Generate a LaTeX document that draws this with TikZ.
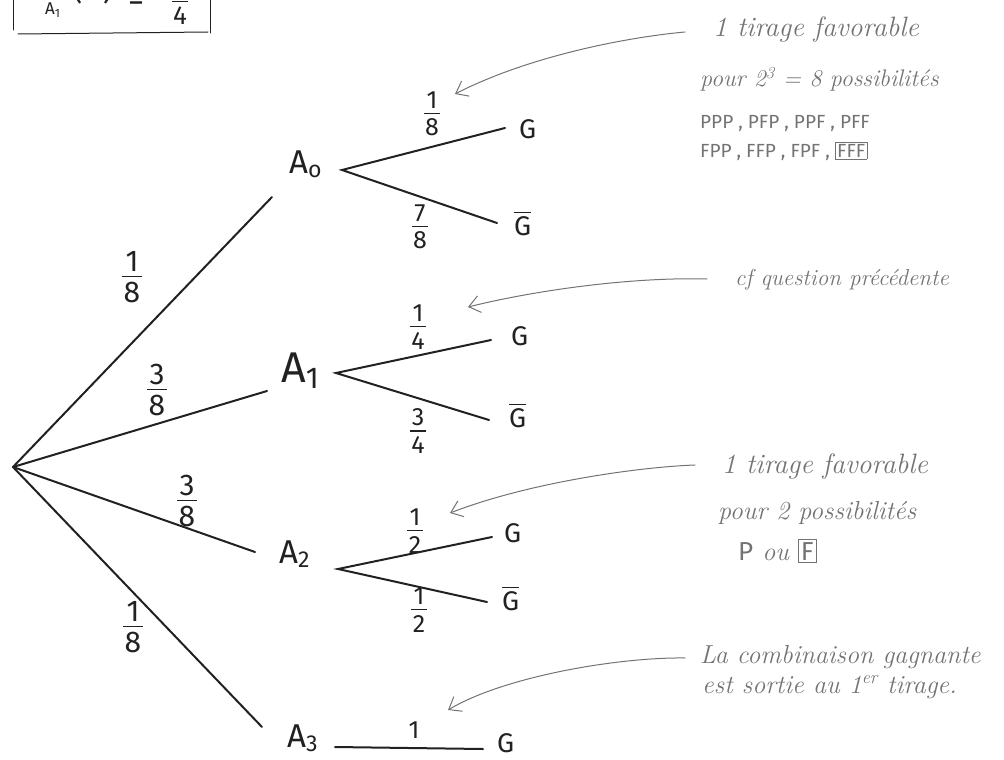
\RequirePackage{fix-cm}
\documentclass[tikz,border=0pt]{standalone}
\usepackage{amsmath}
\usepackage{fontspec}
\newfontfamily\hand{Fira Sans}
\usetikzlibrary{arrows.meta}
\definecolor{ink}{gray}{0.13}
\definecolor{pencil}{gray}{0.45}
\newcommand{\hfr}[2]{$\genfrac{}{}{1.4pt}{1}%
  {\hbox{\kern1.5pt\rule[-3pt]{0pt}{3pt}#1\kern1.5pt}}%
  {\hbox{\kern1.5pt\rule{0pt}{\dimexpr\fontcharht\font`8+3pt\relax}#2\kern1.5pt}}$}
\newcommand{\gbar}{$\overline{\hbox{G}}$}
\tikzset{
  branch/.style={draw=ink, line width=2pt, line cap=round},
  lettr/.style={text=ink, font=\hand\fontsize{33}{38}\selectfont, inner sep=0pt, anchor=base west},
  bigletter/.style={text=ink, font=\hand\fontsize{43}{46}\selectfont, inner sep=0pt, anchor=base west},
  leaf/.style={text=ink, font=\hand\fontsize{27}{30}\selectfont, inner sep=0pt, anchor=base west},
  prob/.style={text=ink, font=\hand\fontsize{25}{28}\selectfont, inner sep=0pt},
  rprob/.style={text=ink, font=\hand\fontsize{30}{32}\selectfont, inner sep=0pt},
  boxtext/.style={text=ink, font=\hand\fontsize{32}{34}\selectfont, inner sep=0pt},
  note/.style={text=pencil, font=\fontsize{26}{30}\selectfont\itshape, anchor=base west, inner sep=0pt},
  bignote/.style={note, font=\fontsize{28}{32}\selectfont\itshape},
  smallnote/.style={note, font=\fontsize{23}{26}\selectfont\itshape},
  caps/.style={text=pencil, font=\hand\fontsize{19}{24}\selectfont, anchor=base west, inner sep=0pt},
  pointer/.style={draw=pencil, line width=1pt, line cap=round, -{Straight Barb[length=11pt,width=17pt]}},
  boxline/.style={draw=ink, line width=1pt, line cap=round},
}
\begin{document}
\begin{tikzpicture}[x=1pt,y=-1pt]
\useasboundingbox (0,0) rectangle (1004,760);
\clip (0,0) rectangle (1004,760);

% ---- top-left result box (cut by the top edge)
\draw[boxline] (13,0) -- (13,30);
\draw[boxline] (18,34) -- (208,32);
\draw[boxline] (210,0) -- (210,33);
\node[boxtext, anchor=base east] (P) at (45,-1) {P};
\node[boxtext, font=\hand\fontsize{17}{20}\selectfont, anchor=base west] (PA) at (45,15) {A\textsubscript{1}};
\node[boxtext, anchor=base west] (PG) at (72,0) {(G)};
\node[boxtext, anchor=base west] (Peq) at (128,11) {=};
\node[boxtext, font=\hand\fontsize{26}{30}\selectfont, anchor=south] (Pfr) at (180,25) {\hfr{1}{4}};

% ---- tree points
\coordinate (root) at (13,467);
\coordinate (A0in) at (272,197);
\coordinate (A1in) at (267,391);
\coordinate (A2in) at (255,552);
\coordinate (A3in) at (262,727);
\coordinate (A0out) at (342,170);
\coordinate (A1out) at (336,373);
\coordinate (A2out) at (338,569);
\coordinate (A3out) at (335,747);
\coordinate (A0G) at (505,128);
\coordinate (A0Gb) at (497,223);
\coordinate (A1G) at (491,340);
\coordinate (A1Gb) at (489,420);
\coordinate (A2G) at (492,537);
\coordinate (A2Gb) at (487,602);
\coordinate (A3G) at (483,749);

% ---- tree labels
\node[lettr] (A0) at (289,173) {A\textsubscript{o}};
\node[bigletter] (A1) at (281,382) {A\textsubscript{1}};
\node[lettr] (A2) at (279,563) {A\textsubscript{2}};
\node[lettr] (A3) at (287,747) {A\textsubscript{3}};

\node[leaf] (G0) at (519,138) {G};
\node[leaf] (Gb0) at (514,235) {\gbar};
\node[leaf] (G1) at (511,345) {G};
\node[leaf] (Gb1) at (509,427) {\gbar};
\node[leaf] (G2) at (504,542) {G};
\node[leaf] (Gb2) at (502,610) {\gbar};
\node[leaf] (G3) at (497,752) {G};

% ---- branches
\draw[branch] (root) -- (A0in);
\draw[branch] (root) -- (A1in);
\draw[branch] (root) -- (A2in);
\draw[branch] (root) -- (A3in);
\draw[branch] (A0G) -- (A0out) -- (A0Gb);
\draw[branch] (A1G) -- (A1out) -- (A1Gb);
\draw[branch] (A2G) -- (A2out) -- (A2Gb);
\draw[branch] (A3out) -- (A3G);

% ---- probabilities
\node[rprob] (r0) at (132,277) {\hfr{1}{8}};
\node[rprob] (r1) at (157,390) {\hfr{3}{8}};
\node[rprob] (r2) at (187,501) {\hfr{3}{8}};
\node[rprob] (r3) at (133,627) {\hfr{1}{8}};
\node[prob] (p0a) at (432,114) {\hfr{1}{8}};
\node[prob] (p0b) at (420,227) {\hfr{7}{8}};
\node[prob] (p1a) at (418,327) {\hfr{1}{4}};
\node[prob] (p1b) at (418,431) {\hfr{3}{4}};
\node[prob] (p2a) at (415,531) {\hfr{1}{2}};
\node[prob] (p2b) at (419,610) {\hfr{1}{2}};
\node[prob, anchor=base] (p3) at (414,738) {1};

% ---- annotations
\node[bignote] (n1a) at (713,37) {1 tirage favorable};
\node[note, font=\fontsize{24}{28}\selectfont\itshape] (n1b) at (700,87) {pour 2\textsuperscript{3} = 8 possibilités};
\node[caps] (n1c) at (700,128) {PPP , PFP , PPF , PFF};
\node[caps] (n1d) at (700,157) {FPP , FFP , FPF , {\fboxsep=1.5pt\fboxrule=0.8pt\fbox{FFF}}};

\node[smallnote] (n2) at (735,285) {cf question précédente};

\node[bignote] (n3a) at (722,473) {1 tirage favorable};
\node[note] (n3b) at (718,519) {pour 2 possibilités};
\node[note] (n3c) at (738,560) {{\hand\upshape P} ou {\fboxsep=2pt\fboxrule=0.8pt\fbox{\hand\upshape F}}};

\node[note] (n4a) at (700,663) {La combinaison gagnante};
\node[note] (n4b) at (702,693) {est sortie au 1\textsuperscript{er} tirage.};

% ---- pointers
\coordinate (s1) at (685,32);
\coordinate (t1) at (455,94);
\coordinate (s2) at (707,279);
\coordinate (t2) at (468,307);
\coordinate (s3) at (695,465);
\coordinate (t3) at (450,513);
\coordinate (s4) at (685,658);
\coordinate (t4) at (448,710);
\draw[pointer] (s1) .. controls (620,38) and (525,58) .. (t1);
\draw[pointer] (s2) .. controls (640,277) and (545,288) .. (t2);
\draw[pointer] (s3) .. controls (640,467) and (530,482) .. (t3);
\draw[pointer] (s4) .. controls (620,657) and (505,676) .. (t4);
\end{tikzpicture}
\end{document}
